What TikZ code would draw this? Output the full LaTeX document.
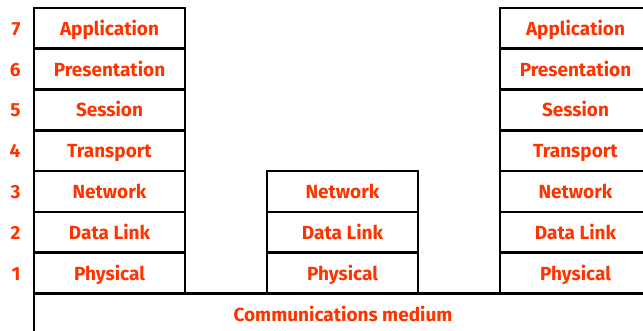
\documentclass[tikz,border=0pt]{standalone}
\usepackage{xcolor}
\usepackage{fontspec}
\setmainfont{Fira Sans}
\usepackage{tikz}
\usetikzlibrary{positioning}

\definecolor{layerred}{RGB}{255,51,0}

\begin{document}
\begin{tikzpicture}[x=1pt,y=-1pt,node distance=0pt,
    layer/.style={rectangle,draw,line width=2.6pt,minimum width=151pt,minimum height=40.8pt,
      outer sep=0pt,inner sep=0pt,text height=15pt,text depth=1pt,
      text=layerred,font=\bfseries\fontsize{19}{21}\selectfont},
    medium/.style={layer,minimum width=618pt,minimum height=42pt},
    num/.style={text=layerred,text height=15pt,text depth=1pt,
      font=\bfseries\fontsize{19}{21}\selectfont}]
    \useasboundingbox (0,0) rectangle (643,331);
    \clip (0,0) rectangle (643,331);

    % left end system
    \node[layer] (l7) at (109.5,28.4) {Application};
    \node[layer] (l6) [below=of l7] {Presentation};
    \node[layer] (l5) [below=of l6] {Session};
    \node[layer] (l4) [below=of l5] {Transport};
    \node[layer] (l3) [below=of l4] {Network};
    \node[layer] (l2) [below=of l3] {Data Link};
    \node[layer] (l1) [below=of l2] {Physical};

    % layer numbers
    \foreach \n in {1,...,7}
      \node[num] (n\n) [left=10pt of l\n] {\n};

    % intermediate node
    \node[layer] (m3) at (342.5,191.6) {Network};
    \node[layer] (m2) [below=of m3] {Data Link};
    \node[layer] (m1) [below=of m2] {Physical};

    % right end system
    \node[layer] (r7) at (575.5,28.4) {Application};
    \node[layer] (r6) [below=of r7] {Presentation};
    \node[layer] (r5) [below=of r6] {Session};
    \node[layer] (r4) [below=of r5] {Transport};
    \node[layer] (r3) [below=of r4] {Network};
    \node[layer] (r2) [below=of r3] {Data Link};
    \node[layer] (r1) [below=of r2] {Physical};

    % medium
    \node[medium,anchor=north west] (med) at (l1.south west) {Communications medium};
  \end{tikzpicture}
\end{document}
